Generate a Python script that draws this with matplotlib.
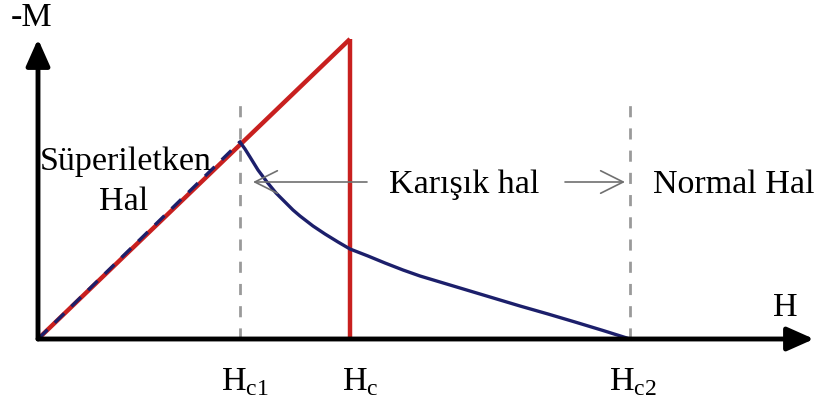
import numpy as np
import matplotlib.pyplot as plt

plt.rcParams['font.family'] = 'serif'
plt.rcParams['font.serif'] = ['Liberation Serif', 'DejaVu Serif']
plt.rcParams['mathtext.fontset'] = 'custom'
plt.rcParams['mathtext.rm'] = 'Liberation Serif'

# critical fields (arbitrary units)
Hc1 = 2.02
Hc = 3.12
Hc2 = 5.92

# Meissner line -M = k*H up to Hc (type I) and up to Hc1 (type II)
H_meissner = [0.0, Hc]
M_meissner = [0.0, 3.00]
H_lin2 = [0.0, Hc1]
M_lin2 = [0.0, 1.97]

# mixed state magnetisation, Hc1 -> Hc2
H_mix = [2.02, 2.07, 2.12, 2.20, 2.29, 2.38, 2.47, 2.55, 2.62, 2.75, 2.87,
         3.00, 3.12, 3.30, 3.47, 3.65, 3.82, 4.07, 4.32, 4.57, 4.82, 5.10,
         5.37, 5.65, 5.92]
M_mix = [1.97, 1.90, 1.82, 1.69, 1.57, 1.46, 1.37, 1.29, 1.23, 1.13, 1.05,
         0.97, 0.90, 0.83, 0.76, 0.69, 0.63, 0.555, 0.48, 0.405, 0.33, 0.25,
         0.17, 0.085, 0.0]

red = '#c8201f'
navy = '#1c1f6b'

fig = plt.figure(figsize=(8.17, 4.06), dpi=100)
ax = fig.add_axes([0, 0, 1, 1])
ax.set_xlim(-0.38, 7.79)
ax.set_ylim(-0.66, 3.40)
ax.axis('off')

# dashed guides at Hc1 and Hc2
for h in (Hc1, Hc2):
    ax.plot([h, h], [0, 2.42], color='#9a9a9a', lw=2, dashes=(4, 4))

# axes with arrows
ax.annotate('', xy=(7.76, 0), xytext=(0, 0),
            arrowprops=dict(arrowstyle='-|>,head_length=0.9,head_width=0.4',
                            lw=3.5, color='black', shrinkA=0, shrinkB=0,
                            mutation_scale=18))
ax.annotate('', xy=(0, 3.0), xytext=(0, 0),
            arrowprops=dict(arrowstyle='-|>,head_length=0.9,head_width=0.4',
                            lw=3.5, color='black', shrinkA=0, shrinkB=0,
                            mutation_scale=18))

# type I curve
ax.plot(H_meissner, M_meissner, color=red, lw=3.2, solid_capstyle='butt')
ax.plot([Hc, Hc], [0, 3.0], color=red, lw=3.2, solid_capstyle='butt')
# type II curve
ax.plot(H_lin2, M_lin2, color=navy, lw=2.4, dashes=(4, 3))
ax.plot(H_mix, M_mix, color=navy, lw=2.4)

# mixed state arrows
arr = dict(arrowstyle='->,head_length=0.9,head_width=0.45', lw=1.2,
           color='#707070', shrinkA=0, shrinkB=0, mutation_scale=18)
ax.annotate('', xy=(2.15, 1.57), xytext=(3.29, 1.57), arrowprops=arr)
ax.annotate('', xy=(5.87, 1.57), xytext=(5.27, 1.57), arrowprops=arr)

fs = 24.5
ax.text(0.88, 1.78, 'Süperiletken', fontsize=fs, ha='center', va='center')
ax.text(0.86, 1.38, 'Hal', fontsize=fs, ha='center', va='center')
ax.text(4.26, 1.55, 'Karışık hal', fontsize=fs, ha='center', va='center')
ax.text(6.15, 1.55, 'Normal Hal', fontsize=fs, ha='left', va='center')
ax.text(-0.06, 3.22, '-M', fontsize=fs, ha='center', va='center')
ax.text(7.47, 0.32, 'H', fontsize=fs, ha='center', va='center')
ax.text(Hc1 + 0.05, -0.42, r'$\mathrm{H}_{\mathrm{c1}}$', fontsize=fs, ha='center', va='center')
ax.text(Hc + 0.10, -0.42, r'$\mathrm{H}_{\mathrm{c}}$', fontsize=fs, ha='center', va='center')
ax.text(Hc2 + 0.03, -0.42, r'$\mathrm{H}_{\mathrm{c2}}$', fontsize=fs, ha='center', va='center')

fig.savefig('out.png', dpi=100)
